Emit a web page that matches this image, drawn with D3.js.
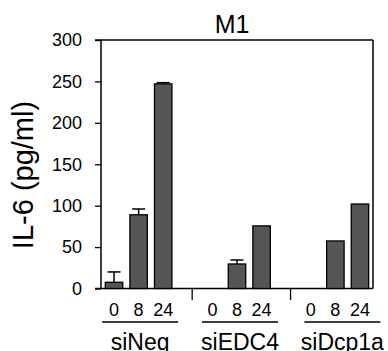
<!DOCTYPE html>
<html>
<head>
<meta charset="utf-8">
<script src="https://cdn.jsdelivr.net/npm/d3@7"></script>
<style>
  body { margin: 0; background: #fff; }
  text { font-family: "Liberation Sans", Arial, sans-serif; fill: #000; }
</style>
</head>
<body>
<script>
var width = 388, height = 351;

// data
var groups = ["siNeg", "siEDC4", "siDcp1a"];
var times = ["0", "8", "24"];
var values = [[7.5, 89, 247], [0, 29.6, 75.6], [0, 57.4, 102]];
var errors = [[12.5, 7, 1.5], [0, 4.8, 0], [0, 0, 0]];
var yTicks = [0, 50, 100, 150, 200, 250, 300];

var plotLeft = 101, plotRight = 373, plotTop = 40, plotBottom = 288.5;

// one slot per bar plus an empty slot between groups
var slots = [];
groups.forEach(function(g, gi) {
    times.forEach(function(t, ti) { slots.push(g + "|" + t); });
    if (gi < groups.length - 1) slots.push("gap" + gi);
});

var x = d3.scaleBand().domain(slots).range([plotLeft, plotRight])
    .paddingInner(0.29).paddingOuter(0.175);
var y = d3.scaleLinear().domain([0, 300]).range([plotBottom, plotTop]);

var svg = d3.select("body").append("svg")
    .attr("width", width)
    .attr("height", height);

// title
svg.append("text")
    .attr("x", 232).attr("y", 33)
    .attr("text-anchor", "middle")
    .style("font-size", "25px")
    .text("M1");

// y label
svg.append("text")
    .attr("transform", "translate(33,175) rotate(-90)")
    .attr("text-anchor", "middle")
    .style("font-size", "29px")
    .text("IL-6 (pg/ml)");

// y axis
var yAxis = svg.append("g")
    .attr("transform", "translate(" + plotLeft + ",0)")
    .call(d3.axisLeft(y).tickValues(yTicks).tickSize(6).tickPadding(13));
yAxis.select(".domain").remove();
yAxis.selectAll("line").attr("stroke", "#000").attr("stroke-width", 1.3);
yAxis.selectAll("text")
    .style("font-size", "18px")
    .style("font-family", "'Liberation Sans', Arial, sans-serif");

// frame lines
var frame = svg.append("g").attr("stroke", "#000").attr("stroke-width", 1.5);
frame.append("line").attr("x1", plotLeft).attr("x2", plotLeft).attr("y1", plotTop).attr("y2", plotBottom);
frame.append("line").attr("x1", plotLeft - 6).attr("x2", plotRight).attr("y1", plotTop).attr("y2", plotTop);
frame.append("line").attr("x1", plotRight).attr("x2", plotRight).attr("y1", plotTop).attr("y2", plotBottom);
frame.append("line").attr("x1", plotLeft - 6).attr("x2", plotRight).attr("y1", plotBottom).attr("y2", plotBottom);

// flat list of bars
var bars = [];
groups.forEach(function(g, gi) {
    times.forEach(function(t, ti) {
        bars.push({key: g + "|" + t, time: t, value: values[gi][ti], err: errors[gi][ti]});
    });
});

var bw = x.bandwidth();

// error bars (upper only)
var eb = svg.append("g").attr("stroke", "#000").attr("stroke-width", 1.5);
bars.filter(function(d) { return d.err > 0; }).forEach(function(d) {
    var cx = x(d.key) + bw / 2;
    eb.append("line").attr("x1", cx).attr("x2", cx)
        .attr("y1", y(d.value)).attr("y2", y(d.value + d.err));
    eb.append("line").attr("x1", cx - 6.5).attr("x2", cx + 6.5)
        .attr("y1", y(d.value + d.err)).attr("y2", y(d.value + d.err));
});

svg.append("g").selectAll("rect")
    .data(bars.filter(function(d) { return d.value > 0; }))
    .join("rect")
    .attr("x", function(d) { return x(d.key); })
    .attr("y", function(d) { return y(d.value); })
    .attr("width", bw)
    .attr("height", function(d) { return y(0) - y(d.value); })
    .attr("fill", "#555555")
    .attr("stroke", "#000")
    .attr("stroke-width", 1.3);

// time labels
svg.append("g").selectAll("text")
    .data(bars)
    .join("text")
    .attr("x", function(d) { return x(d.key) + bw / 2; })
    .attr("y", 316)
    .attr("text-anchor", "middle")
    .style("font-size", "18px")
    .text(function(d) { return d.time; });

// separators between groups
groups.slice(0, -1).forEach(function(g, gi) {
    var sx = x("gap" + gi) + bw * 0.75;
    svg.append("line").attr("x1", sx).attr("x2", sx)
        .attr("y1", plotBottom).attr("y2", 300)
        .attr("stroke", "#000").attr("stroke-width", 1.3);
});

// group underlines and labels
var shift = [1.5, 3, 7];
groups.forEach(function(g, gi) {
    var cx = x(g + "|" + times[1]) + bw / 2 + shift[gi];
    svg.append("line").attr("x1", cx - 38).attr("x2", cx + 38)
        .attr("y1", 322).attr("y2", 322)
        .attr("stroke", "#000").attr("stroke-width", 1.3);
    svg.append("text")
        .attr("x", cx).attr("y", 350)
        .attr("text-anchor", "middle")
        .style("font-size", "23px")
        .text(g);
});
</script>
</body>
</html>
